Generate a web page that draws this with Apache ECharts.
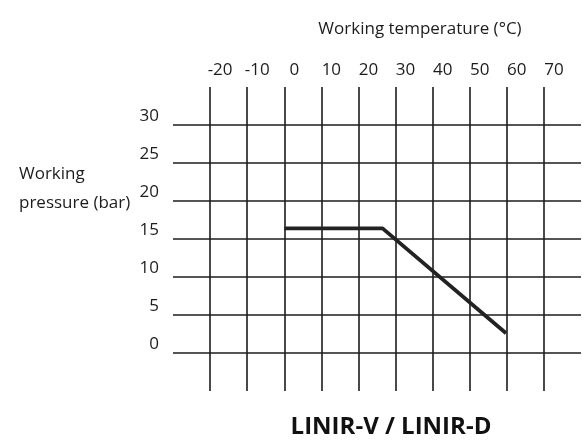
<!DOCTYPE html>
<html>
<head>
<meta charset="utf-8">
<script src="https://cdn.jsdelivr.net/npm/echarts@6/dist/echarts.min.js"></script>
<style>
  html, body { margin: 0; padding: 0; background: #fff; }
  #chart { width: 584px; height: 440px; }
</style>
</head>
<body>
<div id="chart"></div>
<script>
// temperature (°C) and pressure (bar) of the LINIR curve
const temperature = [0, 26.5, 59.8]
const pressure = [16.4, 16.4, 2.6]
// tick labels that are shown
const tempTicks = [-20, -10, 0, 10, 20, 30, 40, 50, 60, 70]
const pressureTicks = [0, 5, 10, 15, 20, 25, 30]

const font = 'Open Sans'
const ink = '#1c1c1c'

const chart = echarts.init(document.getElementById('chart'))
chart.setOption({
  animation: false,
  backgroundColor: '#fff',
  title: [
    {
      text: 'Working temperature (°C)',
      left: 415, top: 16, textAlign: 'center',
      textStyle: {fontFamily: font, fontSize: 17, fontWeight: 'normal', color: ink}
    },
    {
      text: 'Working\npressure (bar)',
      left: 14, top: 155,
      textStyle: {fontFamily: font, fontSize: 17, fontWeight: 'normal', color: ink, lineHeight: 29}
    },
    {
      text: 'LINIR-V / LINIR-D',
      left: 386, top: 410, textAlign: 'center',
      textStyle: {fontFamily: font, fontSize: 24, fontWeight: 'bold', color: '#111'}
    }
  ],
  grid: {left: 173, top: 87, width: 413, height: 304},
  xAxis: {
    type: 'value',
    position: 'top',
    min: -30, max: 80, interval: 10,
    axisLine: {show: false},
    axisTick: {show: false},
    axisLabel: {
      margin: 8,
      padding: [0, 0, 0, 20],
      fontFamily: font, fontSize: 17, color: ink,
      formatter: v => tempTicks.includes(v) ? String(v) : ''
    },
    splitLine: {
      show: true, showMinLine: false, showMaxLine: false,
      lineStyle: {color: ink, width: 1.6}
    }
  },
  yAxis: {
    type: 'value',
    min: -5, max: 35, interval: 5,
    axisLine: {show: false},
    axisTick: {show: false},
    axisLabel: {
      margin: 14,
      verticalAlign: 'bottom',
      fontFamily: font, fontSize: 17, color: ink,
      formatter: v => pressureTicks.includes(v) ? String(v) : ''
    },
    splitLine: {
      show: true, showMinLine: false, showMaxLine: false,
      lineStyle: {color: ink, width: 1.6}
    }
  },
  series: [{
    type: 'line',
    data: temperature.map((t, i) => [t, pressure[i]]),
    symbol: 'none',
    lineStyle: {color: '#222', width: 3.8}
  }]
})
</script>
</body>
</html>
